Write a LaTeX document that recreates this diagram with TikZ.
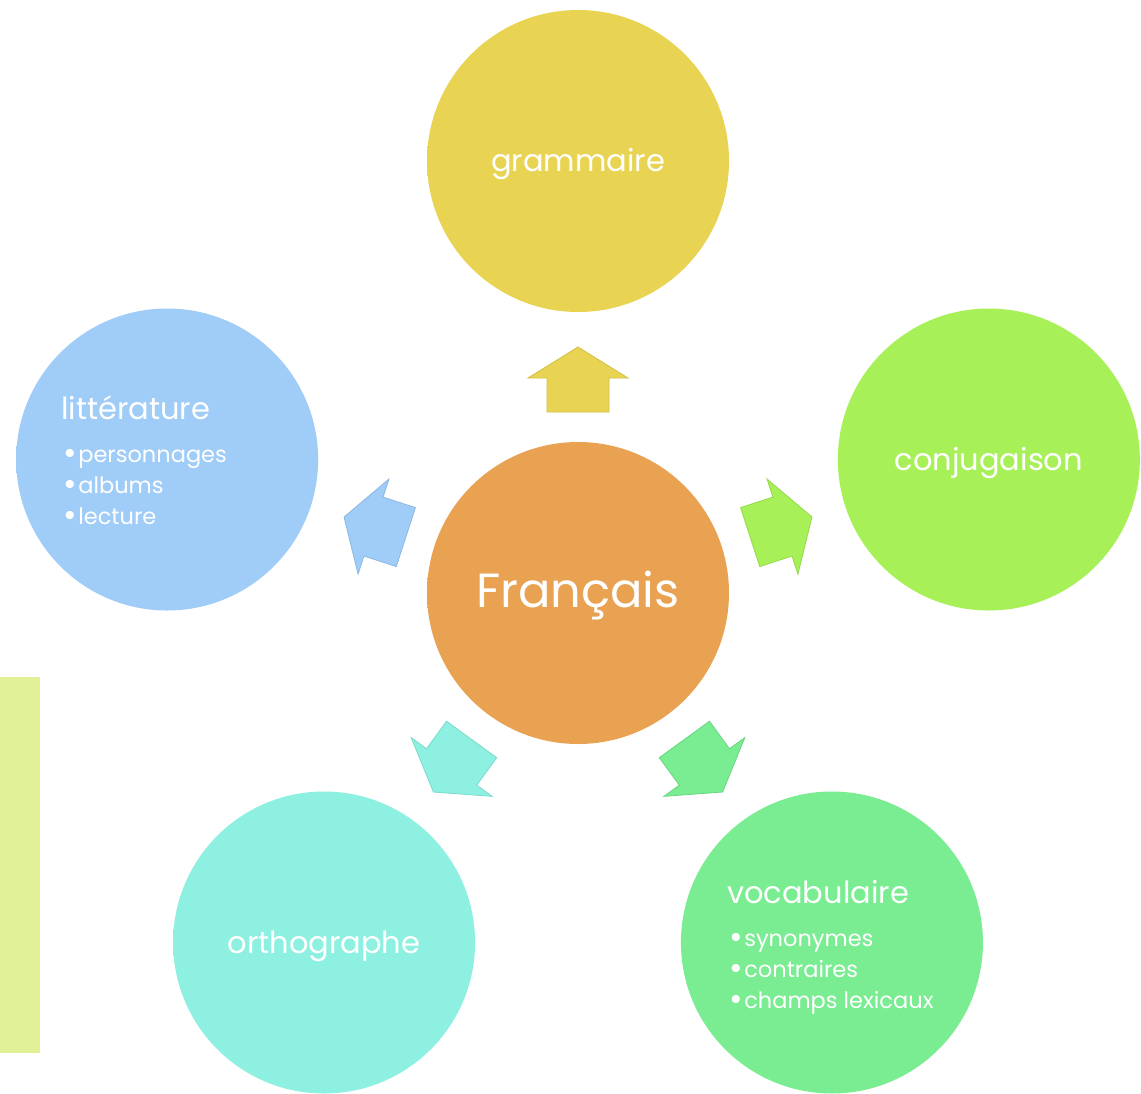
\documentclass[tikz,border=0pt]{standalone}
\usepackage{fontspec}
\setmainfont{Poppins}
\usetikzlibrary{calc}
\definecolor{cgram}{RGB}{232,212,82}
\definecolor{cconj}{RGB}{168,240,88}
\definecolor{cfr}{RGB}{232,162,82}
\definecolor{clit}{RGB}{160,204,248}
\definecolor{cort}{RGB}{142,240,224}
\definecolor{cvoc}{RGB}{122,236,146}
\definecolor{cbar}{RGB}{224,240,150}
\definecolor{egram}{RGB}{210,190,70}
\definecolor{econj}{RGB}{148,218,76}
\definecolor{evoc}{RGB}{104,214,128}
\definecolor{eort}{RGB}{122,218,204}
\definecolor{elit}{RGB}{140,184,228}
\pgfdeclareradialshading{shgram}{\pgfpoint{0bp}{0bp}}{rgb(0bp)=(0.910,0.831,0.322);rgb(44bp)=(0.910,0.831,0.322);rgb(47bp)=(0.930,0.860,0.380);rgb(50bp)=(0.800,0.730,0.280)}
\pgfdeclareradialshading{shconj}{\pgfpoint{0bp}{0bp}}{rgb(0bp)=(0.659,0.941,0.345);rgb(44bp)=(0.659,0.941,0.345);rgb(47bp)=(0.690,0.955,0.400);rgb(50bp)=(0.580,0.830,0.300)}
\pgfdeclareradialshading{shfr}{\pgfpoint{0bp}{0bp}}{rgb(0bp)=(0.910,0.635,0.322);rgb(44bp)=(0.910,0.635,0.322);rgb(47bp)=(0.930,0.670,0.380);rgb(50bp)=(0.800,0.560,0.280)}
\pgfdeclareradialshading{shlit}{\pgfpoint{0bp}{0bp}}{rgb(0bp)=(0.627,0.800,0.973);rgb(44bp)=(0.627,0.800,0.973);rgb(47bp)=(0.670,0.830,0.980);rgb(50bp)=(0.550,0.705,0.860)}
\pgfdeclareradialshading{short}{\pgfpoint{0bp}{0bp}}{rgb(0bp)=(0.557,0.941,0.878);rgb(44bp)=(0.557,0.941,0.878);rgb(47bp)=(0.600,0.955,0.900);rgb(50bp)=(0.490,0.830,0.775)}
\pgfdeclareradialshading{shvoc}{\pgfpoint{0bp}{0bp}}{rgb(0bp)=(0.478,0.925,0.573);rgb(44bp)=(0.478,0.925,0.573);rgb(47bp)=(0.520,0.945,0.610);rgb(50bp)=(0.420,0.815,0.505)}
\tikzset{
  circ/.style={circle, minimum size=302pt, inner sep=0pt, text=white, text height=29pt, text depth=8pt, font=\fontsize{30.5}{34}\selectfont},
  ttl/.style={anchor=base west, inner sep=0pt, text=white, font=\fontsize{30.5}{34}\selectfont},
  blt/.style={anchor=base west, inner sep=0pt, text=white, font=\fontsize{22.5}{26}\selectfont},
  arr/.style args={#1/#2}{draw=#2, line width=0.8pt, fill=#1}
}
\newcommand\bul{\raisebox{-2.6pt}{\fontsize{33}{33}\selectfont•}\kern1.5pt}
\newcommand\myarrow[3]{%
  \begin{scope}[shift={($(fr)+(#1:213pt)$)}, x=1pt, y=1pt, rotate=#1-90]
    \path[arr=#2/#3] (-31,-32) -- (31,-32) -- (31,2) -- (50,2) -- (0,33) -- (-50,2) -- (-31,2) -- cycle;
  \end{scope}}
\begin{document}
\begin{tikzpicture}[x=1pt, y=-1pt]
\path[use as bounding box, fill=white] (0,0) rectangle (1141,1093);
\fill[cbar] (0,677) rectangle (40,1053);
\node[circ, shading=shfr, text height=38pt, text depth=10pt, font=\fontsize{48}{54}\selectfont] (fr) at (578,593) {Français};
\node[circ, shading=shgram] (gram) at ($(fr)+(90:432pt)$) {grammaire};
\node[circ, shading=shconj] (conj) at ($(fr)+(18:432pt)$) {conjugaison};
\node[circ, shading=shvoc] (voc) at ($(fr)+(-54:432pt)$) {};
\node[circ, shading=short] (ort) at ($(fr)+(-126:432pt)$) {orthographe};
\node[circ, shading=shlit] (lit) at ($(fr)+(162:432pt)$) {};
\myarrow{90}{cgram}{egram}
\myarrow{18}{cconj}{econj}
\myarrow{-54}{cvoc}{evoc}
\myarrow{-126}{cort}{eort}
\myarrow{162}{clit}{elit}
\node[ttl] (litT) at (61,419) {littérature};
\node[blt] (litB1) at (63,462) {\bul personnages};
\node[blt] (litB2) at (63,493) {\bul albums};
\node[blt] (litB3) at (63,524) {\bul lecture};
\node[ttl] (vocT) at (727,903) {vocabulaire};
\node[blt] (vocB1) at (729,946) {\bul synonymes};
\node[blt] (vocB2) at (729,977) {\bul contraires};
\node[blt] (vocB3) at (729,1008) {\bul champs lexicaux};
\end{tikzpicture}
\end{document}
